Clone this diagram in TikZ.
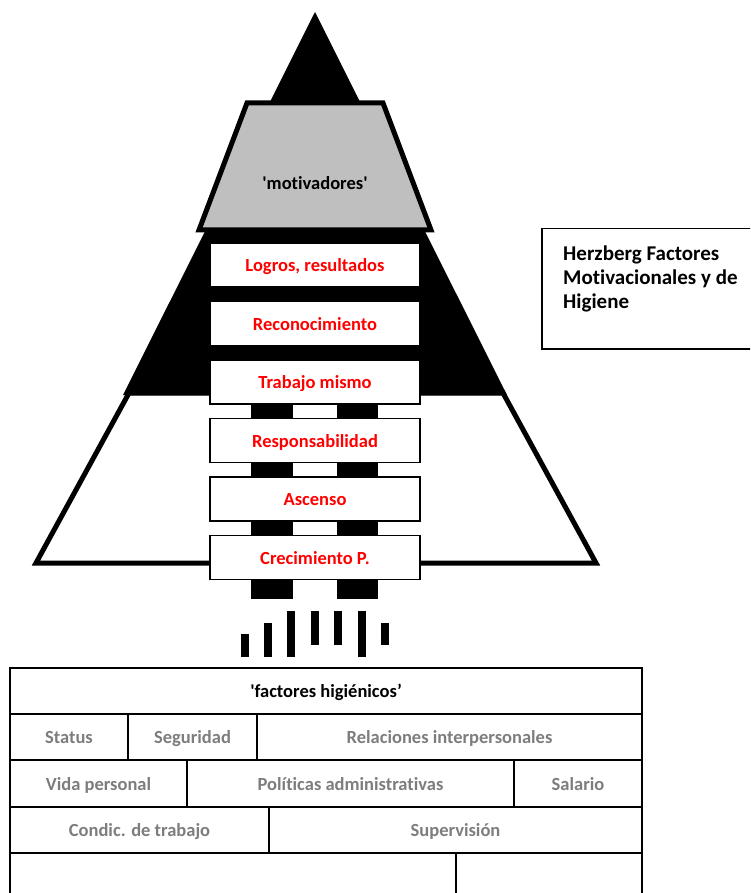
\documentclass[tikz,border=0pt]{standalone}
\usepackage{fontspec}
\setmainfont{Carlito}[Ligatures={TeX,NoCommon}]
\usetikzlibrary{positioning}
\definecolor{motgrey}{RGB}{191,191,191}
\definecolor{higgrey}{RGB}{125,125,125}
\tikzset{
  motbox/.style={draw, line width=1.5pt, fill=white, minimum width=210pt, minimum height=44pt, inner sep=0pt, text height=15pt, text depth=2pt, text=red, font=\bfseries\fontsize{18.5}{22}\selectfont},
  higcell/.style={draw, line width=1.5pt, minimum height=46pt, inner sep=0pt, text height=15pt, text depth=2pt, text=higgrey, font=\bfseries\fontsize{18.5}{22}\selectfont}
}

\begin{document}
\begin{tikzpicture}[x=1pt, y=-1pt]
\useasboundingbox (0, 0) rectangle (750, 893);
\clip (0, 0) rectangle (750, 893);
\draw[line width=5pt, fill=white] (129, 393) -- (503, 393) -- (596, 563) -- (36, 563) -- cycle;
\fill (315, 12) -- (507, 395) -- (123, 395) -- cycle;
\draw[line width=5pt, fill=motgrey] (247, 103) -- (383, 103) -- (431, 230) -- (199, 230) -- cycle;
\node (motiv) at (315, 183) [text height=15pt, text depth=2pt, font=\bfseries\fontsize{18.5}{22}\selectfont] {\textquotesingle motivadores\textquotesingle};
\fill (251, 395) rectangle (293, 599);
\fill (337, 395) rectangle (378, 599);
\node (logros) at (315, 265) [motbox] {Logros, resultados};
\node (reco) [motbox, below=13pt of logros] {Reconocimiento};
\node (trabajo) [motbox, below=13pt of reco] {Trabajo mismo};
\node (resp) [motbox, below=13pt of trabajo] {Responsabilidad};
\node (ascenso) [motbox, below=13pt of resp] {Ascenso};
\node (crec) [motbox, below=13pt of ascenso] {Crecimiento P.};
\foreach \xb/\ya/\yb in {245/634/657, 268/623/657, 291/611/657, 315/611/645, 338/611/645, 362/611/657, 385/623/645}
  \fill (\xb-4.25, \ya) rectangle (\xb+4.25, \yb);
\node (hig) at (326, 691) [higcell, minimum width=632pt, text=black] {\textquotesingle factores higiénicos'};
\node (status) at (69, 737) [higcell, minimum width=118pt] {Status};
\node (seguridad) at (192.5, 737) [higcell, minimum width=129pt] {Seguridad};
\node (relaciones) at (449.5, 737) [higcell, minimum width=385pt] {Relaciones interpersonales};
\node (vida) at (98.5, 783.5) [higcell, minimum width=177pt] {Vida personal};
\node (politicas) at (350.5, 783.5) [higcell, minimum width=327pt] {Políticas administrativas};
\node (salario) at (578, 783.5) [higcell, minimum width=128pt] {Salario};
\node (condic) at (139.5, 830) [higcell, minimum width=259pt] {Condic. de trabajo};
\node (supervision) at (455.5, 830) [higcell, minimum width=373pt] {Supervisión};
\node (vacio1) at (233, 876) [higcell, minimum width=446pt] {};
\node (vacio2) at (549, 876) [higcell, minimum width=186pt] {};
\node (legend) at (541, 228) [draw, line width=1.5pt, anchor=north west, minimum width=215pt, minimum height=120pt] {};
\node (title) at (563, 246) [anchor=north west, align=left, inner sep=0pt, font=\bfseries\fontsize{21}{24}\selectfont] {Herzberg Factores\\Motivacionales y de\\Higiene};
\end{tikzpicture}
\end{document}
